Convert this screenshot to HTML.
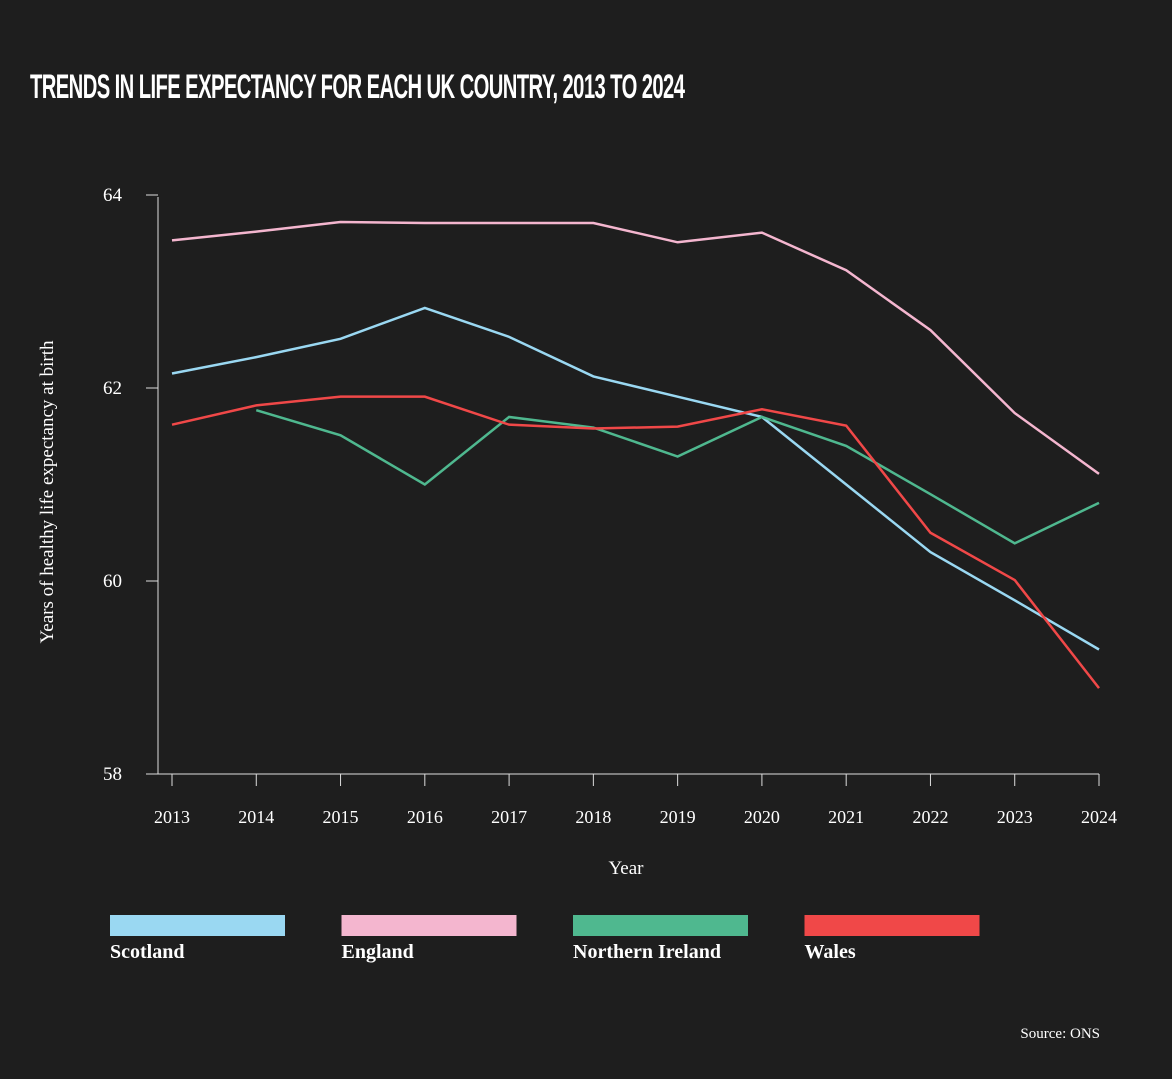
<!DOCTYPE html>
<html><head><meta charset="utf-8"><style>
html,body{margin:0;padding:0;background:#1e1e1e;}
body{width:1172px;height:1079px;overflow:hidden;position:relative;font-family:"Liberation Serif",serif;color:#fff;}
#title{position:absolute;left:30px;top:68px;font-family:"Liberation Sans Narrow","Liberation Sans",sans-serif;font-weight:bold;font-size:34px;letter-spacing:-1px;transform:scaleX(0.595);transform-origin:left top;white-space:nowrap;}
svg{position:absolute;left:0;top:0;}
svg text{font-family:"Liberation Serif",serif;fill:#fff;}
</style></head><body>
<div id="title">TRENDS IN LIFE EXPECTANCY FOR EACH UK COUNTRY, 2013 TO 2024</div>
<svg id="chart" width="1172" height="1079"></svg>
<script>
const years=[2013,2014,2015,2016,2017,2018,2019,2020,2021,2022,2023,2024];
const yTicks=[58,60,62,64];
const scotland=[62.15,62.32,62.51,62.83,62.53,62.12,61.91,61.70,61.00,60.30,59.80,59.29];
const england=[63.53,63.62,63.72,63.71,63.71,63.71,63.51,63.61,63.22,62.60,61.74,61.11];
const nireland=[null,61.77,61.51,61.00,61.70,61.59,61.29,61.70,61.40,60.90,60.39,60.81];
const wales=[61.62,61.82,61.91,61.91,61.62,61.58,61.60,61.78,61.61,60.50,60.01,58.89];
const seriesNames=["Scotland","England","Northern Ireland","Wales"];
const seriesColors=["#9ad8f2","#f4b6cf","#4fb88f","#f04848"];
const svg=document.getElementById('chart');
const NS="http://www.w3.org/2000/svg";
const x=i=>172+i*(1099-172)/11;
const y=v=>581-(v-60)*96.5;
function mk(t,a){const e=document.createElementNS(NS,t);for(const k in a)e.setAttribute(k,a[k]);svg.appendChild(e);return e;}
let ax=mk('line',{x1:158,y1:197,x2:158,y2:774,stroke:'#ddd','stroke-width':1});


let bx=mk('line',{x1:146,y1:774,x2:1099,y2:774,stroke:'#ddd','stroke-width':1});


yTicks.forEach(v=>{
 const t=mk('line',{x1:146,y1:y(v),x2:158,y2:y(v),stroke:'#ddd'});
 
 
 const l=mk('text',{x:122,y:y(v)+6,'text-anchor':'end','font-size':19});l.textContent=v;
 
 
});
years.forEach((yr,i)=>{
 const t=mk('line',{x1:x(i),y1:774,x2:x(i),y2:786,stroke:'#ddd'});
 
 
 const l=mk('text',{x:x(i),y:823,'text-anchor':'middle','font-size':18});l.textContent=yr;
 
 
});
let xt=mk('text',{x:626,y:874,'text-anchor':'middle','font-size':19});xt.textContent='Year';


let yt=mk('text',{x:53,y:492,'text-anchor':'middle','font-size':19,transform:'rotate(-90 53 492)'});yt.textContent='Years of healthy life expectancy at birth';


[scotland,england,nireland,wales].forEach((s,k)=>{
 let d='';s.forEach((v,i)=>{if(v==null)return;d+=(d?'L':'M')+x(i)+','+y(v);});
 const p=mk('path',{d:d,fill:'none',stroke:seriesColors[k],'stroke-width':2.5});
 
 
});
seriesNames.forEach((n,k)=>{
 const lx=110+k*231.5;
 const r=mk('rect',{x:lx,y:915,width:175,height:21,fill:seriesColors[k]});
 
 
 const t=mk('text',{x:lx,y:958,'font-size':20,'font-weight':'bold'});t.textContent=n;
 
 
});
let src=mk('text',{x:1100,y:1038,'text-anchor':'end','font-size':15});src.textContent='Source: ONS';


</script>
</body></html>
